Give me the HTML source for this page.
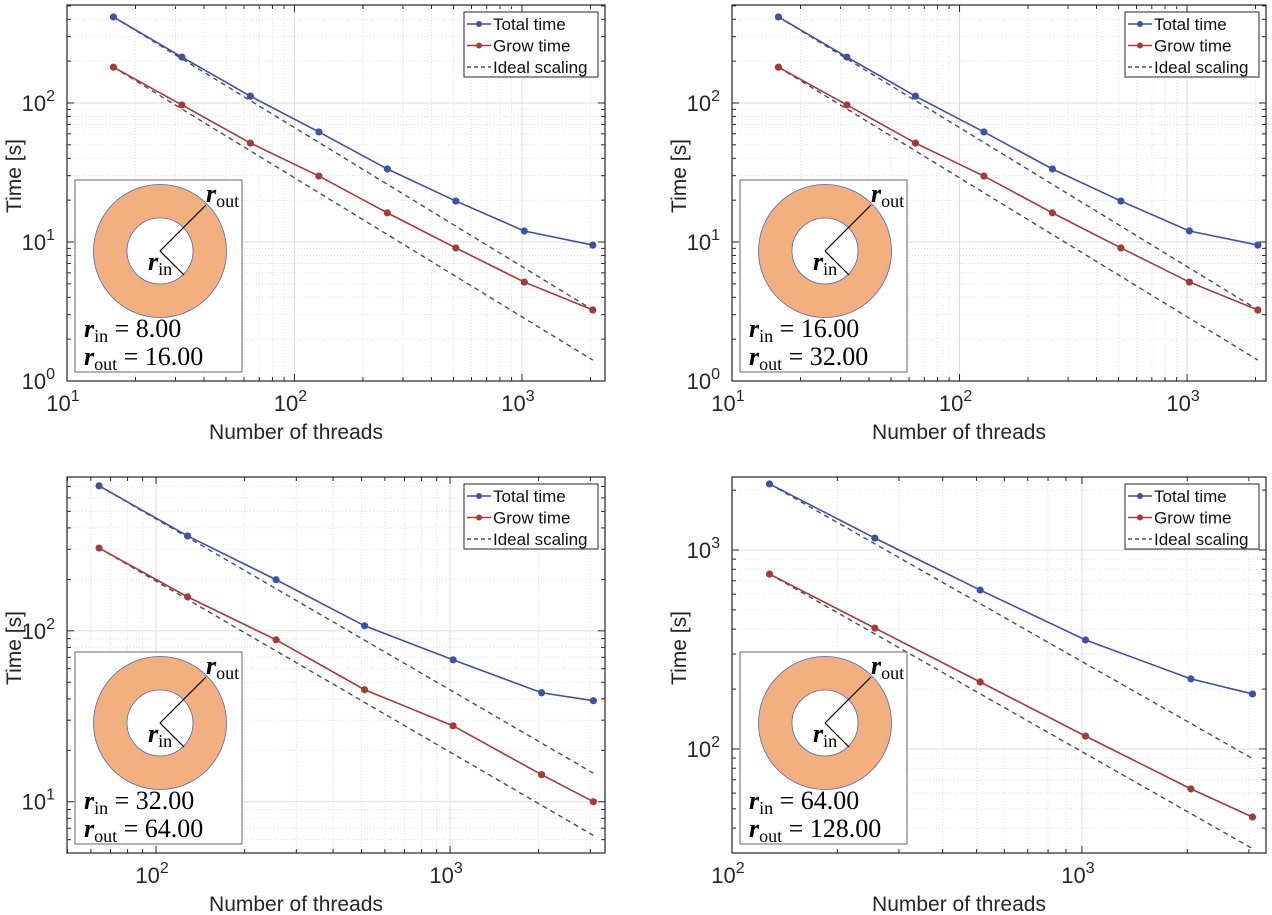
<!DOCTYPE html>
<html><head><meta charset="utf-8"><style>
html,body{margin:0;padding:0;background:#fff;}
svg{display:block;font-family:"Liberation Sans",sans-serif;}
</style></head><body>
<svg id="fig" width="1272" height="915" viewBox="0 0 1272 915" xmlns="http://www.w3.org/2000/svg"></svg>
<script>
// ---- data ----
const threadsA = [16, 32, 64, 128, 256, 512, 1024, 2048];
const totalA = [416, 214, 112, 61.9, 33.5, 19.7, 12.0, 9.5];
const growA = [181, 96.8, 51.5, 29.8, 16.2, 9.06, 5.15, 3.24];
const threadsC = [64, 128, 256, 512, 1024, 2048, 3072];
const totalC = [705, 359, 199, 107, 67.6, 43.4, 39.0];
const growC = [305, 158, 88.6, 45.2, 27.8, 14.4, 10.0];
const threadsD = [128, 256, 512, 1024, 2048, 3072];
const totalD = [2148, 1148, 629, 353, 225, 189];
const growD = [757, 405, 217, 116, 63, 45.5];
const rInVals = ["8.00", "16.00", "32.00", "64.00"];
const rOutVals = ["16.00", "32.00", "64.00", "128.00"];
const xTickExp = [[1,2,3],[1,2,3],[2,3],[2,3]];
const yTickExp = [[0,1,2],[0,1,2],[1,2],[2,3]];

const panels = [
 {L:67,R:605,T:5,B:381,x0:1,x1:3.365,y0:0,y1:2.705,th:threadsA,tot:totalA,gr:growA},
 {L:732,R:1266,T:5,B:381,x0:1,x1:3.347,y0:0,y1:2.705,th:threadsA,tot:totalA,gr:growA},
 {L:67,R:605,T:477,B:853,x0:1.697,x1:3.527,y0:0.70,y1:2.90,th:threadsC,tot:totalC,gr:growC},
 {L:732,R:1266,T:477,B:853,x0:2,x1:3.526,y0:1.477,y1:3.367,th:threadsD,tot:totalD,gr:growD}
];
const NS="http://www.w3.org/2000/svg";
const fig=document.getElementById('fig');
function mk(tag,attrs,parent){const e=document.createElementNS(NS,tag);for(const k in attrs)e.setAttribute(k,attrs[k]);(parent||fig).appendChild(e);return e;}
const BLUE="#3f51a0", RED="#a33b3b";

panels.forEach((p,pi)=>{
  const g=mk('g',{});
  
  
  const sx=v=>p.L+(Math.log10(v)-p.x0)/(p.x1-p.x0)*(p.R-p.L);
  const sy=v=>p.B-(Math.log10(v)-p.y0)/(p.y1-p.y0)*(p.B-p.T);
  const grid=mk('g',{},g);
  
  
  for(let d=Math.floor(p.x0);d<=Math.ceil(p.x1);d++){
    for(let m=1;m<10;m++){
      const v=m*Math.pow(10,d), lv=Math.log10(v);
      if(lv<p.x0-1e-6||lv>p.x1+1e-6)continue;
      const x=sx(v);
      if(m===1){mk('line',{x1:x,x2:x,y1:p.T,y2:p.B,stroke:'#dcdcdc','stroke-width':1},grid);}
      else mk('line',{x1:x,x2:x,y1:p.T,y2:p.B,stroke:'#e2e2e2','stroke-width':1,'stroke-dasharray':'1,2'},grid);
      const tl=m===1?7:4;
      mk('line',{x1:x,x2:x,y1:p.B,y2:p.B-tl,stroke:'#262626'},grid);
      mk('line',{x1:x,x2:x,y1:p.T,y2:p.T+tl,stroke:'#262626'},grid);
    }
  }
  for(let d=Math.floor(p.y0);d<=Math.ceil(p.y1);d++){
    for(let m=1;m<10;m++){
      const v=m*Math.pow(10,d), lv=Math.log10(v);
      if(lv<p.y0-1e-6||lv>p.y1+1e-6)continue;
      const y=sy(v);
      if(m===1)mk('line',{x1:p.L,x2:p.R,y1:y,y2:y,stroke:'#dcdcdc'},grid);
      else mk('line',{x1:p.L,x2:p.R,y1:y,y2:y,stroke:'#e2e2e2','stroke-dasharray':'1,2'},grid);
      const tl=m===1?7:4;
      mk('line',{x1:p.L,x2:p.L+tl,y1:y,y2:y,stroke:'#262626'},grid);
      mk('line',{x1:p.R,x2:p.R-tl,y1:y,y2:y,stroke:'#262626'},grid);
    }
  }
  xTickExp[pi].forEach(e=>{
    const t=mk('text',{x:sx(Math.pow(10,e))-4,y:p.B+30,'font-size':22,'text-anchor':'middle',fill:'#262626'},g);
    
    
    t.innerHTML='10<tspan dy="-10" font-size="16">'+e+'</tspan>';
  });
  yTickExp[pi].forEach(e=>{
    const t=mk('text',{x:p.L-12,y:sy(Math.pow(10,e))+8,'font-size':22,'text-anchor':'end',fill:'#262626'},g);
    
    
    t.innerHTML='10<tspan dy="-10" font-size="16">'+e+'</tspan>';
  });
  const xt=mk('text',{x:(p.L+p.R)/2-40,y:p.B+58,'font-size':21,'text-anchor':'middle',fill:'#262626'},g);
  
  
  xt.textContent='Number of threads';
  const ycx=p.L-46, ycy=(p.T+p.B)/2-17;
  const yt=mk('text',{x:ycx,y:ycy,'font-size':21,'text-anchor':'middle',fill:'#262626',transform:`rotate(-90 ${ycx} ${ycy})`},g);
  
  
  yt.textContent='Time [s]';
  const n=p.th.length, t0=p.th[0];
  [p.tot,p.gr].forEach((s,si)=>{
    const l=mk('line',{x1:sx(t0),y1:sy(s[0]),x2:sx(p.th[n-1]),y2:sy(s[0]*t0/p.th[n-1]),stroke:'#4a4d5a','stroke-width':1.4,'stroke-dasharray':'5,4'},g);
    
    
  });
  [[p.tot,BLUE,'total-time'],[p.gr,RED,'grow-time']].forEach(([s,c,nm])=>{
    const pl=mk('polyline',{points:s.map((v,i)=>sx(p.th[i])+','+sy(v)).join(' '),fill:'none',stroke:c,'stroke-width':1.6},g);
    
    
    s.forEach((v,i)=>{
      const c1=mk('circle',{cx:sx(p.th[i]),cy:sy(v),r:3.6,fill:c},g);
      
      
    });
  });
  const fr=mk('rect',{x:p.L,y:p.T,width:p.R-p.L,height:p.B-p.T,fill:'none',stroke:'#262626','stroke-width':1.2},g);
  
  
  const lg=mk('g',{},g);
  
  
  const lx=p.R-141, ly=p.T+7;
  mk('rect',{x:lx,y:ly,width:134,height:65,fill:'#fff',stroke:'#262626','stroke-width':1},lg);
  [['Total time',BLUE,false],['Grow time',RED,false],['Ideal scaling','#4a4d5a',true]].forEach((e,i)=>{
    const yy=ly+12+i*21.5;
    const en=mk('g',{},lg);
    
    
    mk('line',{x1:lx+3,x2:lx+27,y1:yy,y2:yy,stroke:e[1],'stroke-width':1.5,'stroke-dasharray':e[2]?'4,3':'none'},en);
    if(!e[2])mk('circle',{cx:lx+15,cy:yy,r:3,fill:e[1]},en);
    const tx=mk('text',{x:lx+29,y:yy+6,'font-size':17,fill:'#111'},en);
    tx.textContent=e[0];
  });
  const ins=mk('g',{},g);
  
  
  const ix=p.L+8, iy=p.B-201;
  mk('rect',{x:ix,y:iy,width:167,height:192,fill:'#fff',stroke:'#7f7f7f','stroke-width':1.2},ins);
  const cx=ix+85, cy=iy+71;
  mk('circle',{cx:cx,cy:cy,r:66.5,fill:'#f2b080',stroke:'#5566aa','stroke-width':0.8},ins);
  mk('circle',{cx:cx,cy:cy,r:33,fill:'#fff',stroke:'#5566aa','stroke-width':0.8},ins);
  mk('line',{x1:cx,y1:cy,x2:cx+46,y2:cy-46,stroke:'#000','stroke-width':1.2},ins);
  mk('line',{x1:cx,y1:cy,x2:cx+24,y2:cy+24,stroke:'#000','stroke-width':1.2},ins);
  const ser='font-family:"Liberation Serif",serif;';
  const ro=mk('text',{x:cx+46,y:cy-49,'font-size':26,style:ser,fill:'#000'},ins);
  ro.innerHTML='<tspan font-style="italic" font-weight="bold">r</tspan><tspan font-size="18" dy="5">out</tspan>';
  const ri=mk('text',{x:cx-12,y:cy+19,'font-size':26,style:ser,fill:'#000'},ins);
  ri.innerHTML='<tspan font-style="italic" font-weight="bold">r</tspan><tspan font-size="18" dy="5">in</tspan>';
  const t1=mk('text',{x:ix+9,y:iy+157,'font-size':26,style:ser,fill:'#000'},ins);
  
  
  t1.innerHTML='<tspan font-style="italic" font-weight="bold">r</tspan><tspan font-size="18" dy="5">in</tspan><tspan dy="-5"> = '+rInVals[pi]+'</tspan>';
  const t2=mk('text',{x:ix+9,y:iy+185,'font-size':26,style:ser,fill:'#000'},ins);
  
  
  t2.innerHTML='<tspan font-style="italic" font-weight="bold">r</tspan><tspan font-size="18" dy="5">out</tspan><tspan dy="-5"> = '+rOutVals[pi]+'</tspan>';
});
</script>
</body></html>
